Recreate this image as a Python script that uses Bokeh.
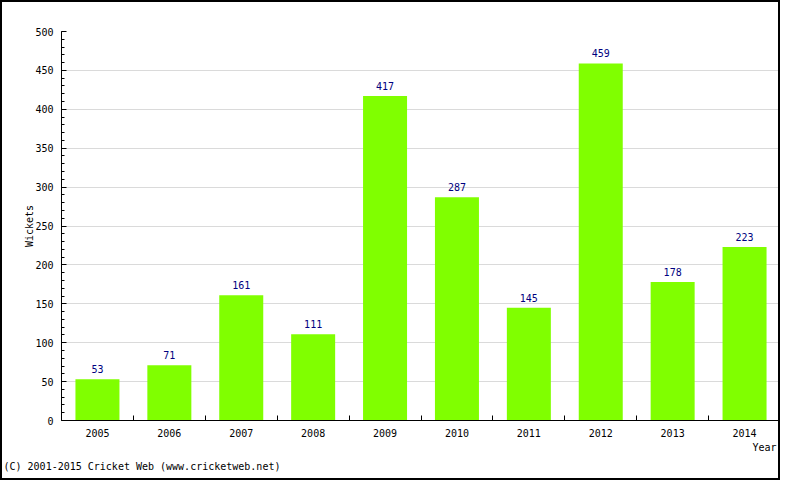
from bokeh.plotting import figure
from bokeh.models import (Range1d, SingleIntervalTicker, FixedTicker, ColumnDataSource,
                          Title)
from bokeh.core.properties import value
from bokeh.embed import file_html
from bokeh.resources import INLINE

years = ["2005", "2006", "2007", "2008", "2009", "2010", "2011", "2012", "2013", "2014"]
wickets = [53, 71, 161, 111, 417, 287, 145, 459, 178, 223]
y_axis_title = "Wickets"
x_axis_title = "Year"
footer = "(C) 2001-2015 Cricket Web (www.cricketweb.net)"

FONT = "DejaVu Sans Mono"
n = len(years)
xs = [i + 0.5 for i in range(n)]
src = ColumnDataSource(dict(x=xs, y=wickets, lbl=[str(v) for v in wickets]))

p = figure(width=780, height=480, output_backend="svg", toolbar_location=None,
           x_range=Range1d(0, n), y_range=Range1d(0, 500),
           min_border_left=59, min_border_right=2, min_border_top=29, min_border_bottom=62)
p.styles = {"border": "2px solid black"}
p.outline_line_color = None
p.background_fill_color = "white"
p.border_fill_color = "white"

p.vbar(x="x", top="y", width=0.612, bottom=0, source=src,
       fill_color="#80FF00", line_color=None)
p.text(x="x", y="y", text="lbl", source=src, text_align="center",
       text_baseline="alphabetic", y_offset=-10, text_color="#000080",
       text_font=value(FONT), text_font_size="10px")

# y axis
p.yaxis.ticker = SingleIntervalTicker(interval=50, num_minor_ticks=5)
p.yaxis.major_tick_in = 5
p.yaxis.major_tick_out = 0
p.yaxis.minor_tick_in = 3
p.yaxis.minor_tick_out = 0
p.yaxis.major_label_standoff = 8
p.yaxis.axis_label = y_axis_title
p.yaxis.axis_label_standoff = -3

# x axis
p.xaxis.ticker = FixedTicker(ticks=xs, minor_ticks=list(range(1, n + 1)))
p.xaxis.major_label_overrides = {x: y for x, y in zip(xs, years)}
p.xaxis.major_tick_in = 0
p.xaxis.major_tick_out = 0
p.xaxis.minor_tick_in = 5
p.xaxis.minor_tick_out = 0
p.xaxis.major_label_standoff = 8

for ax in (p.xaxis[0], p.yaxis[0]):
    ax.axis_line_color = "black"
    ax.major_tick_line_color = "black"
    ax.minor_tick_line_color = "black"
    ax.major_label_text_font = FONT
    ax.major_label_text_font_size = "10px"
    ax.major_label_text_color = "black"
    ax.axis_label_text_font = FONT
    ax.axis_label_text_font_size = "10px"
    ax.axis_label_text_font_style = "normal"
    ax.axis_label_text_color = "black"

p.xgrid.grid_line_color = None
p.ygrid.ticker = SingleIntervalTicker(interval=50)
p.ygrid.grid_line_color = "#dadada"
p.ygrid.grid_line_width = 1

p.add_layout(Title(text=x_axis_title, align="right", offset=4, text_font=FONT,
                   text_font_size="10px", text_font_style="normal", text_color="black",
                   standoff=0), "below")
p.add_layout(Title(text=footer, align="left", offset=-58, text_font=FONT,
                   text_font_size="10px", text_font_style="normal", text_color="black",
                   standoff=12), "below")

open("out.html", "w").write(file_html(p, INLINE))
